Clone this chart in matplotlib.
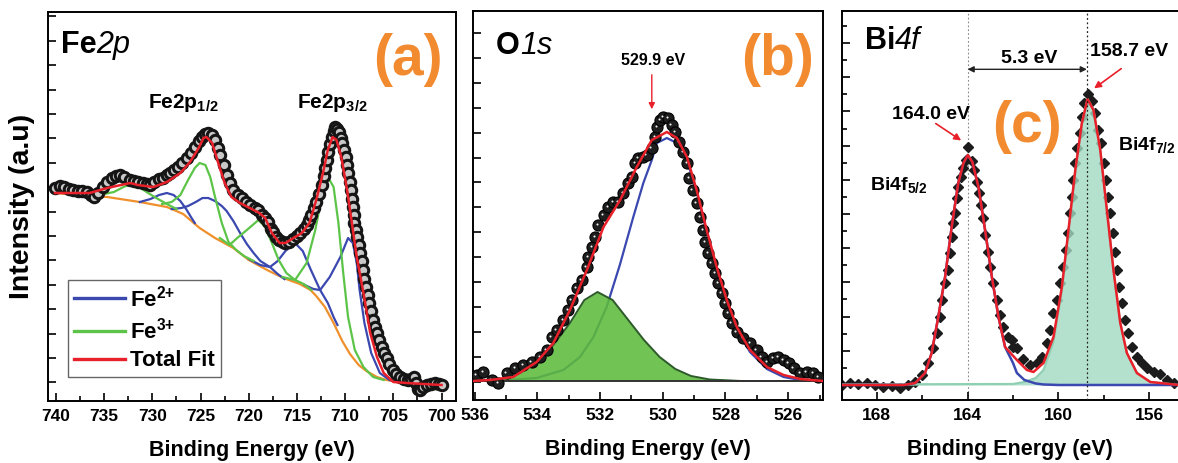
import numpy as np
import matplotlib
matplotlib.use('Agg')
import matplotlib.pyplot as plt
from matplotlib.ticker import MultipleLocator, FixedLocator
from matplotlib import transforms

plt.rcParams['font.family'] = ['Liberation Sans', 'DejaVu Sans']
plt.rcParams['font.weight'] = 'bold'
plt.rcParams['axes.labelweight'] = 'bold'
plt.rcParams['mathtext.default'] = 'regular'

# ---------------- datos (energía de enlace en eV, intensidad en u.a.) ----------------
# (a) Fe 2p
fe_data = np.array([
    [740.1, 213], [739.6, 215], [739.2, 214], [738.7, 212], [738.2, 211], [737.7, 210],
    [737.3, 210], [736.8, 209], [736.4, 206], [736.1, 204], [735.6, 208], [735.1, 214],
    [734.7, 219], [734.2, 223], [733.8, 225], [733.4, 226], [732.9, 224], [732.3, 221],
    [731.9, 220], [731.5, 219], [731.0, 218], [730.6, 217], [730.2, 216], [729.8, 219],
    [729.3, 222], [728.9, 223], [728.5, 226], [728.2, 228], [727.8, 231], [727.3, 234],
    [726.9, 238], [726.4, 243], [726.0, 248], [725.6, 254], [725.2, 260], [724.9, 264],
    [724.5, 267], [724.2, 268], [723.8, 266], [723.5, 261], [723.2, 253], [723.0, 246],
    [722.6, 236], [722.3, 226], [721.9, 218], [721.6, 211], [721.1, 206], [720.7, 203],
    [720.3, 199], [719.9, 196], [719.4, 193], [719.0, 191], [718.6, 186], [718.3, 183],
    [718.0, 179], [717.7, 172], [717.5, 169], [717.2, 164], [716.9, 161], [716.5, 159],
    [716.2, 158], [715.8, 159], [715.4, 162], [715.0, 165], [714.7, 168], [714.3, 172],
    [714.0, 176], [713.7, 181], [713.5, 186], [713.2, 193], [713.0, 199], [712.7, 207],
    [712.4, 216], [712.2, 225], [712.1, 233], [711.9, 241], [711.8, 249], [711.6, 257],
    [711.4, 264], [711.2, 270], [711.1, 274], [710.8, 272], [710.6, 269], [710.4, 263],
    [710.3, 258], [710.1, 251], [709.9, 244], [709.8, 236], [709.7, 228], [709.5, 219],
    [709.4, 211], [709.3, 202], [709.2, 194], [709.1, 186], [709.1, 178], [708.9, 171],
    [708.8, 164], [708.6, 156], [708.5, 148], [708.3, 140], [708.1, 131], [708.0, 122],
    [707.8, 114], [707.6, 106], [707.5, 98], [707.3, 90], [707.1, 81], [706.9, 74],
    [706.7, 68], [706.5, 61], [706.2, 54], [706.0, 48], [705.7, 43], [705.4, 37],
    [705.0, 31], [704.7, 27], [704.3, 24], [703.9, 22], [703.5, 21], [703.2, 22],
    [702.9, 24], [702.6, 18], [702.4, 12], [702.2, 11], [701.9, 14], [701.5, 16],
    [701.1, 17], [700.7, 18], [700.3, 17], [700.0, 16]])

fe_fit = np.array([
    [740.1, 208], [736.5, 208], [734.7, 213], [732.3, 218], [731.5, 216], [729.9, 214],
    [728.5, 219], [727.1, 228], [726.1, 239], [725.2, 253], [724.7, 263], [724.4, 264],
    [723.8, 258], [723.2, 239], [722.5, 218], [721.8, 204], [720.9, 198], [719.5, 191],
    [718.9, 188], [718.3, 183], [717.6, 168], [716.8, 158], [716.2, 158], [715.7, 161],
    [714.5, 168], [713.7, 178], [713.0, 201], [712.3, 228], [711.8, 251], [711.3, 264],
    [710.9, 261], [710.4, 244], [709.8, 211], [709.3, 178], [708.8, 144], [708.1, 108],
    [707.4, 68], [706.7, 44], [706.0, 28], [705.0, 19], [703.6, 18], [700.0, 16]])

fe_background = np.array([
    [740.1, 208], [737.5, 206], [734.7, 204], [731.3, 199], [728.5, 194], [726.8, 187],
    [725.1, 173], [723.5, 163], [721.6, 153], [720.0, 141], [718.1, 131], [716.4, 123],
    [714.7, 117], [713.6, 111], [713.0, 105], [712.1, 94], [711.2, 78], [710.3, 60],
    [709.5, 47], [708.6, 36], [707.8, 30], [706.7, 24], [705.7, 21], [704.0, 18], [700.0, 16]])

# Fe2+ (azul)
fe2_peak1 = np.array([[731.3, 199], [730.2, 202], [729.3, 206], [728.5, 208], [727.8, 206],
                      [727.1, 200], [726.5, 192], [726.0, 184], [725.6, 178]])
fe2_peak2 = np.array([[728.0, 192], [727.0, 193], [726.3, 195], [725.5, 199], [724.8, 203],
                      [724.2, 203], [723.5, 200], [722.8, 195], [722.3, 190], [721.6, 180],
                      [720.9, 168], [720.2, 157], [719.5, 148], [718.8, 140], [717.8, 134],
                      [717.0, 127], [716.3, 122]])
fe2_peak3 = np.array([[720.0, 142], [718.8, 136], [717.8, 134], [717.0, 140], [716.2, 150],
                      [715.2, 158], [714.4, 150], [713.6, 132], [712.6, 111], [711.8, 98],
                      [711.2, 84], [710.8, 76]])
fe2_peak4 = np.array([[714.2, 116], [713.3, 112], [712.6, 111], [711.6, 124], [710.5, 144],
                      [709.7, 163], [709.2, 158], [708.8, 138], [708.5, 111], [708.0, 78],
                      [707.3, 48], [706.4, 28], [705.4, 21], [704.0, 18]])
# Fe3+ (verde)
fe3_peak0 = np.array([[735.5, 206], [734.0, 209], [733.0, 214], [732.2, 217], [731.4, 214],
                      [730.6, 209], [729.6, 203], [728.5, 197], [727.5, 192]])
fe3_peak1 = np.array([[729.0, 197], [728.0, 199], [727.1, 206], [726.3, 221], [725.6, 233],
                      [725.1, 238], [724.5, 236], [724.0, 224], [723.5, 204], [722.8, 178],
                      [722.1, 159], [721.3, 151], [720.5, 145], [719.5, 140]])
fe3_peak2 = np.array([[723.0, 163], [722.0, 156], [721.2, 163], [720.2, 171], [719.0, 181],
                      [718.3, 174], [717.6, 158], [716.9, 141], [716.1, 128], [715.2, 121],
                      [714.3, 117], [713.5, 111]])
fe3_peak3 = np.array([[716.5, 124], [715.2, 121], [714.0, 138], [713.1, 171], [712.3, 211],
                      [711.8, 224], [711.2, 214], [710.7, 178], [710.2, 128], [709.7, 84],
                      [709.0, 51], [708.1, 34], [707.1, 24], [706.0, 21]])

# (b) O 1s
o_data = np.array([
    [535.93, 25], [535.72, 28], [535.45, 20], [535.24, 17], [534.98, 27], [534.71, 32],
    [534.45, 35], [534.18, 38], [533.91, 43], [533.70, 50], [533.54, 63], [533.38, 70],
    [533.17, 80], [533.01, 90], [532.90, 100], [532.74, 112], [532.58, 120], [532.42, 133],
    [532.37, 143], [532.26, 153], [532.16, 163], [532.05, 175], [531.89, 185], [531.74, 193],
    [531.58, 198], [531.42, 198], [531.26, 207], [531.10, 217], [530.99, 223], [530.88, 237],
    [530.78, 242], [530.62, 243], [530.51, 245], [530.35, 252], [530.25, 263], [530.17, 273],
    [530.09, 280], [529.98, 283], [529.82, 282], [529.71, 275], [529.61, 268], [529.47, 258],
    [529.34, 248], [529.23, 237], [529.15, 222], [529.04, 210], [528.92, 197], [528.81, 183],
    [528.72, 170], [528.65, 158], [528.55, 147], [528.44, 137], [528.33, 127], [528.23, 117],
    [528.12, 107], [528.01, 97], [527.91, 87], [527.80, 77], [527.64, 68], [527.43, 62],
    [527.22, 57], [527.00, 50], [526.84, 43], [526.68, 38], [526.47, 42], [526.31, 43],
    [526.15, 40], [525.99, 37], [525.83, 32], [525.62, 27], [525.41, 28], [525.20, 27],
    [525.04, 23]])

o_fit = np.array([
    [536.06, 19], [535.5, 20], [534.77, 23], [534.02, 38], [533.49, 57], [532.96, 90],
    [532.42, 130], [531.89, 173], [531.36, 200], [530.83, 233], [530.35, 260], [529.87, 268],
    [529.55, 262], [529.23, 243], [528.92, 210], [528.60, 170], [528.28, 133], [527.96, 100],
    [527.64, 73], [527.22, 50], [526.68, 33], [526.15, 25], [525.62, 21], [524.9, 19]])

o_lattice = np.array([
    [536.06, 19], [535.0, 20], [534.02, 22], [533.17, 30], [532.64, 43], [532.21, 63],
    [531.79, 93], [531.37, 135], [530.94, 183], [530.62, 217], [530.35, 240], [530.19, 257],
    [529.87, 262], [529.55, 257], [529.34, 247], [529.23, 240], [528.92, 208], [528.60, 168],
    [528.28, 131], [527.96, 98], [527.64, 71], [527.22, 48], [526.68, 31], [526.15, 23],
    [525.62, 20], [524.9, 19]])

o_defect = np.array([
    [536.06, 19], [535.5, 20], [535.0, 22], [534.55, 27], [534.02, 37], [533.49, 55],
    [532.96, 77], [532.5, 100], [532.08, 108], [531.6, 100], [531.1, 80], [530.6, 60],
    [530.1, 43], [529.6, 31], [529.1, 24], [528.5, 20.5], [527.5, 19], [524.9, 19]])
o_baseline = 19

# (c) Bi 4f
bi_data = np.array([
    [169.54, 15], [169.18, 17], [168.81, 16], [168.44, 17], [168.07, 15], [167.71, 13],
    [167.34, 14], [166.97, 12], [166.61, 15], [166.31, 18], [166.02, 25], [165.73, 37],
    [165.51, 52], [165.36, 67], [165.21, 83], [165.11, 100], [164.99, 117], [164.87, 130],
    [164.77, 147], [164.70, 163], [164.63, 177], [164.55, 187], [164.48, 202], [164.41, 213],
    [164.29, 223], [164.18, 232], [164.08, 240], [163.96, 253], [163.81, 239], [163.70, 230],
    [163.59, 218], [163.49, 207], [163.41, 195], [163.33, 182], [163.23, 165], [163.11, 148],
    [163.00, 133], [162.86, 117], [162.71, 100], [162.57, 85], [162.42, 73], [162.20, 63],
    [162.05, 60], [161.98, 53], [161.83, 52], [161.54, 41], [161.25, 35], [160.95, 37],
    [160.73, 43], [160.51, 57], [160.37, 70], [160.22, 87], [160.07, 100], [159.93, 117],
    [159.78, 133], [159.66, 150], [159.56, 167], [159.48, 187], [159.41, 203], [159.34, 220],
    [159.26, 237], [159.19, 252], [159.07, 267], [158.97, 283], [158.87, 297], [158.72, 306],
    [158.53, 299], [158.38, 287], [158.24, 270], [158.13, 257], [158.01, 237], [157.90, 220],
    [157.80, 203], [157.72, 187], [157.60, 167], [157.50, 148], [157.43, 130], [157.34, 113],
    [157.21, 97], [157.06, 80], [156.92, 67], [156.77, 53], [156.55, 43], [156.33, 37],
    [156.11, 32], [155.81, 28], [155.52, 26], [155.22, 20], [154.93, 17]])

bi_fit = np.array([
    [169.6, 15], [166.8, 15], [166.3, 17], [165.87, 27], [165.58, 47], [165.29, 83],
    [164.99, 123], [164.70, 173], [164.41, 217], [164.18, 237], [163.99, 245], [163.79, 238],
    [163.52, 213], [163.23, 170], [162.93, 123], [162.64, 83], [162.35, 53], [161.83, 40],
    [161.39, 30], [161.10, 28], [160.66, 37], [160.22, 63], [159.85, 113], [159.56, 170],
    [159.26, 230], [158.97, 277], [158.72, 301], [158.46, 290], [158.16, 250], [157.87, 190],
    [157.58, 130], [157.28, 77], [156.99, 47], [156.55, 27], [155.96, 18], [154.7, 15]])

bi_52 = np.array([
    [169.6, 15], [166.8, 15], [166.3, 17], [165.87, 27], [165.58, 47], [165.29, 83],
    [164.99, 123], [164.70, 173], [164.41, 217], [164.18, 237], [163.99, 245], [163.79, 238],
    [163.52, 213], [163.23, 170], [162.93, 123], [162.64, 83], [162.35, 53], [162.0, 37],
    [161.83, 27], [161.5, 20], [161.0, 16.5], [160.66, 15.5], [160.0, 15], [154.7, 15]])

bi_72 = np.array([
    [169.6, 15.5], [162.0, 16], [161.5, 18], [161.0, 22], [160.66, 30], [160.22, 58],
    [159.85, 110], [159.56, 168], [159.26, 229], [158.97, 277], [158.72, 301], [158.46, 290],
    [158.16, 250], [157.87, 190], [157.58, 130], [157.28, 77], [156.99, 47], [156.55, 27],
    [155.96, 18], [154.7, 15]])
bi_baseline = 15

# Colores
RED = '#e8202a'
BLUE = '#3a48b0'
GREEN = '#5cc448'
ORANGE = '#f0902c'
LABEL_ORANGE = '#f28a30'

fig = plt.figure(figsize=(11.78, 4.63), dpi=100)
ax_a = fig.add_axes([0.0410, 0.1339, 0.3461, 0.8408])
ax_b = fig.add_axes([0.4013, 0.1361, 0.2971, 0.8401])
ax_c = fig.add_axes([0.7145, 0.1361, 0.2855, 0.8401])

# ---------------- (a) Fe 2p ----------------
ax_a.plot(fe_background[:, 0], fe_background[:, 1], color=ORANGE, lw=1.6, zorder=2)
h_blue = None
for comp in [fe2_peak1, fe2_peak2, fe2_peak3, fe2_peak4]:
    h_blue, = ax_a.plot(comp[:, 0], comp[:, 1], color=BLUE, lw=1.6, zorder=3)
h_green = None
for comp in [fe3_peak0, fe3_peak1, fe3_peak2, fe3_peak3]:
    h_green, = ax_a.plot(comp[:, 0], comp[:, 1], color=GREEN, lw=1.6, zorder=3)
ax_a.plot(fe_data[:, 0], fe_data[:, 1], 'o', ms=7.5, mfc='#c8c8c8', mec='#151515', mew=2.2, zorder=4)
h_red, = ax_a.plot(fe_fit[:, 0], fe_fit[:, 1], color=RED, lw=1.8, zorder=5)

ax_a.set_xlim(740.8, 698.5)
ax_a.set_ylim(0, 389.3)
ax_a.xaxis.set_major_locator(MultipleLocator(5))
ax_a.xaxis.set_minor_locator(MultipleLocator(2.5))
ax_a.yaxis.set_major_locator(FixedLocator(np.arange(18.7, 389, 24.4)))

leg = ax_a.legend([h_blue, h_green, h_red], ['Fe$^{2{+}}$', 'Fe$^{3{+}}$', 'Total Fit'],
                  loc='lower left', bbox_to_anchor=(0.049, 0.062), borderaxespad=0,
                  fontsize=16, handlelength=2.3, handletextpad=0.25, labelspacing=0.3,
                  borderpad=0.25, fancybox=False, edgecolor='#666666', framealpha=1)
leg.get_frame().set_linewidth(1.0)
for line in leg.get_lines():
    line.set_linewidth(2.4)

t = ax_a.text(0.031, 0.893, 'Fe', transform=ax_a.transAxes, fontsize=22, va='baseline')
ax_a.annotate('2p', xy=(1, 0), xycoords=t, va='bottom', fontsize=22, style='italic',
              fontweight='normal')
ax_a.text(0.882, 0.876, '(a)', transform=ax_a.transAxes, fontsize=41, color=LABEL_ORANGE,
          ha='center', va='center')
ax_a.text(730.46, 292.7, 'Fe2p$_{1/2}$', fontsize=15, ha='left', va='baseline')
ax_a.text(715.0, 292.7, 'Fe2p$_{3/2}$', fontsize=15, ha='left', va='baseline')

# ---------------- (b) O 1s ----------------
ax_b.plot(o_lattice[:, 0], o_lattice[:, 1], color=BLUE, lw=1.6, zorder=2)
ax_b.fill_between(o_defect[:, 0], o_baseline, o_defect[:, 1], color='#5dbb3c', alpha=0.88,
                  lw=0, zorder=3)
ax_b.plot(o_defect[:, 0], o_defect[:, 1], color='#2d5a2a', lw=1.4, zorder=3)
ax_b.axhline(o_baseline, color='#333333', lw=1.4, zorder=3)
ax_b.plot(o_data[:, 0], o_data[:, 1], 'o', ms=8, mfc='#1e1e1e', mec='black', mew=0.8, zorder=4)
shine = transforms.offset_copy(ax_b.transData, fig=fig, x=-1.0, y=1.0, units='points')
ax_b.plot(o_data[:, 0], o_data[:, 1], 'o', ms=1.5, mew=0, color='#f0f0f0', transform=shine,
          zorder=4)
ax_b.plot(o_fit[:, 0], o_fit[:, 1], color=RED, lw=1.8, zorder=5)

ax_b.set_xlim(536.06, 524.9)
ax_b.set_ylim(0, 389)
ax_b.xaxis.set_major_locator(MultipleLocator(2))
ax_b.xaxis.set_minor_locator(MultipleLocator(1))
ax_b.yaxis.set_major_locator(FixedLocator(np.arange(18.4, 389, 24.9)))

t = ax_b.text(0.067, 0.889, 'O', transform=ax_b.transAxes, fontsize=22, va='baseline')
ax_b.annotate('1s', xy=(1, 0), xycoords=t, va='bottom', fontsize=22, style='italic',
              fontweight='normal')
ax_b.text(0.871, 0.875, '(b)', transform=ax_b.transAxes, fontsize=41, color=LABEL_ORANGE,
          ha='center', va='center')
ax_b.text(530.3, 340, '529.9 eV', fontsize=11.5, ha='center', va='center')
ax_b.annotate('', xy=(530.35, 288), xytext=(530.35, 328),
              arrowprops=dict(arrowstyle='-|>', color=RED, lw=1.0, mutation_scale=9))

# ---------------- (c) Bi 4f ----------------
ax_c.plot(bi_data[:, 0], bi_data[:, 1], 'D', ms=5.5, color='#1c1c1c', zorder=2)
ax_c.fill_between(bi_72[:, 0], bi_baseline, bi_72[:, 1], color='#a2dac2', alpha=0.8,
                  lw=0, zorder=3)
ax_c.plot(bi_72[:, 0], bi_72[:, 1], color='#8fd0b4', lw=1.6, zorder=3)
ax_c.plot(bi_52[:, 0], bi_52[:, 1], color=BLUE, lw=1.8, zorder=4)
ax_c.plot(bi_fit[:, 0], bi_fit[:, 1], color=RED, lw=1.8, zorder=5)
ax_c.axvline(164.0, color='#888888', lw=0.8, ls=(0, (1.5, 2)), zorder=1)
ax_c.axvline(158.75, color='#222222', lw=0.9, ls=(0, (1.5, 2)), zorder=6)

ax_c.set_xlim(169.54, 154.74)
ax_c.set_ylim(0, 389)
ax_c.xaxis.set_major_locator(MultipleLocator(4))
ax_c.xaxis.set_minor_locator(MultipleLocator(2))
ax_c.yaxis.set_major_locator(FixedLocator(np.arange(15, 389, 34.2)))
ax_c.yaxis.set_minor_locator(FixedLocator(np.arange(32.1, 389, 34.2)))
ax_c.spines['right'].set_visible(False)

t = ax_c.text(0.069, 0.9015, 'Bi', transform=ax_c.transAxes, fontsize=22, va='baseline')
ax_c.annotate('4f', xy=(1, 0), xycoords=t, va='bottom', fontsize=22, style='italic',
              fontweight='normal')
ax_c.text(0.5525, 0.703, '(c)', transform=ax_c.transAxes, fontsize=41, color=LABEL_ORANGE,
          ha='center', va='center')
ax_c.text(168.3, 210, 'Bi4f$_{5/2}$', fontsize=14, ha='left', va='baseline')
ax_c.text(157.4, 250, 'Bi4f$_{7/2}$', fontsize=14, ha='left', va='baseline')
ax_c.text(165.6, 286, '164.0 eV', fontsize=14, ha='center', va='center')
ax_c.annotate('', xy=(164.18, 258), xytext=(165.5, 278),
              arrowprops=dict(arrowstyle='-|>', color=RED, lw=1.2, mutation_scale=10))
ax_c.text(158.6, 349, '158.7 eV', fontsize=14, ha='left', va='center')
ax_c.annotate('', xy=(158.53, 310), xytext=(157.14, 333),
              arrowprops=dict(arrowstyle='-|>', color=RED, lw=1.2, mutation_scale=10))
ax_c.text(161.3, 342, '5.3 eV', fontsize=14, ha='center', va='center')
ax_c.annotate('', xy=(164.0, 330.7), xytext=(158.75, 330.7),
              arrowprops=dict(arrowstyle='<|-|>', color='#222222', lw=1.0, mutation_scale=9,
                              shrinkA=0, shrinkB=0))

# ---------------- estilo común ----------------
for ax in [ax_a, ax_b, ax_c]:
    for sp in ax.spines.values():
        sp.set_linewidth(1.4)
    ax.tick_params(which='both', direction='in', top=False, right=False, labelleft=False,
                   width=1.2, labelsize=12.5, pad=6)
    ax.tick_params(which='major', length=6)
    ax.tick_params(which='minor', length=3.5)
    ax.set_xlabel('Binding Energy (eV)', fontsize=15.5, labelpad=11)

fig.text(0.019, 0.555, 'Intensity (a.u)', rotation=90, fontsize=20.5, ha='center', va='center')

fig.savefig('out.png', dpi=100)
